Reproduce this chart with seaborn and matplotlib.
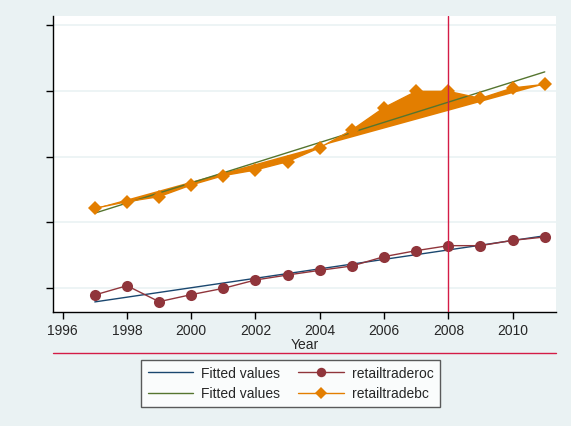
import numpy as np
import pandas as pd
import seaborn as sns
import matplotlib.pyplot as plt

years = [1997, 1998, 1999, 2000, 2001, 2002, 2003, 2004,
         2005, 2006, 2007, 2008, 2009, 2010, 2011]
retailtraderoc = [-10.6, 3.5, -20.8, -10.1, -0.5, 12.2, 19.8, 26.9,
                  33.5, 47.7, 56.8, 64.4, 64.4, 72.5, 77.6]
retailtradebc = [121.2, 131.3, 138.9, 156.7, 170.9, 179.5, 192.2, 213.5,
                 240.3, 274.3, 299.1, 299.1, 288.4, 304.2, 309.8]
x_ticks = [1996, 1998, 2000, 2002, 2004, 2006, 2008, 2010]
y_ticks = [0, 100, 200, 300, 400]
event_year = 2008

df = pd.DataFrame({"Year": years,
                   "retailtraderoc": retailtraderoc,
                   "retailtradebc": retailtradebc})

# linear fits of each series on year
for col, fit in [("retailtraderoc", "fit_roc"), ("retailtradebc", "fit_bc")]:
    b, a = np.polyfit(df["Year"], df[col], 1)
    df[fit] = a + b * df["Year"]

BG = "#eaf2f3"
NAVY = "#1a476f"
MAROON = "#90353b"
GREEN = "#55752f"
ORANGE = "#e37e00"
XLINE = "#d41c46"

sns.set_theme(style="white")
plt.rcParams["font.family"] = ["Liberation Sans", "DejaVu Sans"]
plt.rcParams["font.size"] = 10

fig = plt.figure(figsize=(5.71, 4.27), dpi=100, facecolor=BG)
ax = fig.add_axes([53 / 571, 1 - 313 / 427, (556 - 53) / 571, (313 - 17) / 427])
ax.set_facecolor("white")

for yv in y_ticks:
    ax.axhline(yv, color=BG, lw=1.2, zorder=0)

# area formed by the bc series
ax.fill(df["Year"], df["retailtradebc"], color=ORANGE, lw=0, zorder=1)

sns.lineplot(data=df, x="Year", y="fit_roc", ax=ax, color=NAVY, lw=1.0,
             label="Fitted values", zorder=2)
sns.lineplot(data=df, x="Year", y="fit_bc", ax=ax, color=GREEN, lw=1.0,
             label="Fitted values", zorder=2)
sns.lineplot(data=df, x="Year", y="retailtraderoc", ax=ax, color=MAROON,
             lw=1.0, marker="o", markersize=8, markeredgewidth=0,
             label="retailtraderoc", zorder=3)
sns.lineplot(data=df, x="Year", y="retailtradebc", ax=ax, color=ORANGE,
             lw=1.0, marker="D", markersize=7, markeredgewidth=0,
             label="retailtradebc", zorder=3)

ax.axvline(event_year, color=XLINE, lw=1.0, zorder=4)
ax.plot([0, 1], [-0.1385, -0.1385], transform=ax.transAxes, color=XLINE,
        lw=1.0, clip_on=False)

ax.set_xlim(1995.7, 2011.35)
ax.set_ylim(-36.5, 413.7)
ax.set_xticks(x_ticks)
ax.set_yticks(y_ticks)
ax.set_yticklabels([])
ax.set_ylabel("")
ax.set_xlabel("Year", fontsize=10, labelpad=0)
ax.tick_params(axis="both", direction="out", length=5, width=1,
               color="black", labelsize=10, pad=3, left=True, bottom=True)
for side in ["top", "right"]:
    ax.spines[side].set_visible(False)
for side in ["left", "bottom"]:
    ax.spines[side].set_color("black")
    ax.spines[side].set_linewidth(1)

handles, labels = ax.get_legend_handles_labels()
ax.get_legend().remove()
leg = fig.legend(handles, labels, ncol=2, loc="upper center",
                 bbox_to_anchor=(290.5 / 571, 1 - 361 / 427),
                 borderaxespad=0, frameon=True, fancybox=False,
                 edgecolor="#333333", fontsize=10, handlelength=3.3,
                 columnspacing=1.3, labelspacing=0.45, borderpad=0.45,
                 handletextpad=0.55, markerscale=0.85)
leg.get_frame().set_linewidth(1.0)

fig.savefig("out.png", dpi=100, facecolor=BG)
